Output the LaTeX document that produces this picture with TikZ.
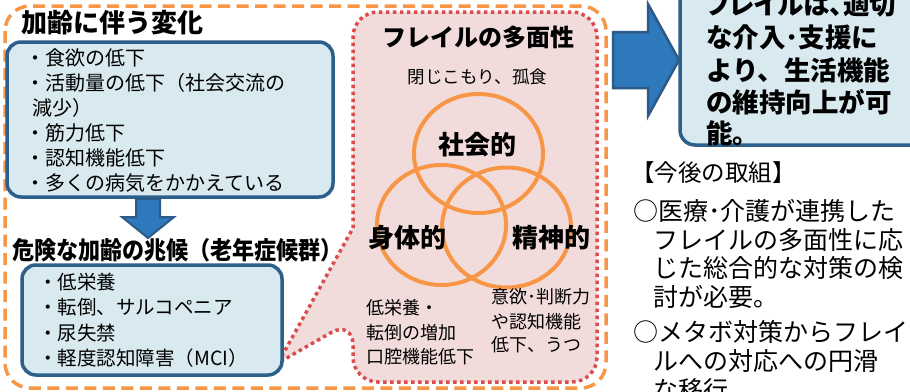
\documentclass[tikz,border=0pt]{standalone}
\usepackage{fontspec}
\setmainfont{Noto Sans CJK JP}
\usepackage{graphicx}
\definecolor{orng}{RGB}{247,150,70}
\definecolor{lightblue}{RGB}{216,234,240}
\definecolor{boxblue}{RGB}{44,95,138}
\definecolor{arrowblue}{RGB}{46,120,188}
\definecolor{arrowedge}{RGB}{44,90,135}
\definecolor{pinkfill}{RGB}{242,220,219}
\definecolor{dotred}{RGB}{218,76,78}
\newcommand\fsz[1]{\fontsize{#1}{#1}\selectfont}
\begin{document}
\begin{tikzpicture}[x=1pt,y=-1pt,
  txt/.style={inner sep=0pt, anchor=west, text=black},
  ctxt/.style={inner sep=0pt, text=black},
  bluebox/.style={draw=boxblue, line width=3.5pt, fill=lightblue, rounded corners=14pt},
  frame/.style={draw=orng, line width=3.5pt, dash pattern=on 12pt off 6.5pt, rounded corners=25pt},
  callout/.style={draw=dotred, fill=pinkfill, line width=3.5pt, dash pattern=on 3.5pt off 3.5pt},
  venn/.style={draw=orng, line width=4pt},
  bigarrow/.style={fill=arrowblue, draw=arrowedge, line width=2.5pt, line join=miter}
]
\useasboundingbox (0,0) rectangle (910,391);
\clip (0,0) rectangle (910,391);
\fill[white] (0,0) rectangle (910,391);

% outer orange dashed frame
\draw[frame] (5,6) rectangle (606,388);

% pink callout
\draw[callout, rounded corners=25pt] (353,228) -- (353,12) -- (597,12) -- (597,382) -- (353,382) -- (353,320) [sharp corners] -- (278,363) -- cycle;

% left boxes
\draw[bluebox] (7,42) rectangle (333,197);
\draw[bluebox] (22,265) rectangle (282,375);

% down arrow
\draw[bigarrow, line width=2pt] (136,199) -- (160,199) -- (160,217) -- (174,217) -- (148,238) -- (122,217) -- (136,217) -- cycle;

% right arrow and box
\draw[bigarrow] (613,32) -- (648,32) -- (648,4) -- (679,60) -- (648,116) -- (648,88) -- (613,88) -- cycle;
\draw[bluebox, rounded corners=15pt] (680,-30) rectangle (940,145);

% headings
\node[txt] (h1) at (21,23) {\fsz{26}\bfseries 加齢に伴う変化};
\node[txt] (h2) at (12,250) {\fsz{24.5}\bfseries\scalebox{0.9}[1]{危険な加齢の兆候（老年症候群）}};

% box 1 items
\node[txt] (a1) at (25,58) {\fsz{20}・食欲の低下};
\node[txt] (a2) at (25,83) {\fsz{20}・活動量の低下（社会交流の};
\node[txt] (a3) at (32,108) {\fsz{20}減少）};
\node[txt] (a4) at (25,133) {\fsz{20}・筋力低下};
\node[txt] (a5) at (25,158) {\fsz{20}・認知機能低下};
\node[txt] (a6) at (25,183) {\fsz{20}・多くの病気をかかえている};

% box 2 items
\node[txt] (b1) at (38,282) {\fsz{19.5}・低栄養};
\node[txt] (b2) at (38,307) {\fsz{19.5}・転倒、サルコペニア};
\node[txt] (b3) at (38,333) {\fsz{19.5}・尿失禁};
\node[txt] (b4) at (38,358) {\fsz{19.5}・軽度認知障害（MCI）};

% pink box content
\node[ctxt] (ft) at (478,37) {\fsz{24}\bfseries フレイルの多面性};
\node[ctxt] (soc) at (477.5,77) {\fsz{17.5}閉じこもり、孤食};

\draw[venn] (478.5,153.5) ellipse [x radius=64.5pt, y radius=59.5pt];
\draw[venn] (441.5,225) ellipse [x radius=64.5pt, y radius=60pt];
\draw[venn] (506.5,227.5) ellipse [x radius=64.5pt, y radius=60pt];

\node[ctxt] (c1) at (477.5,145) {\fsz{26}\bfseries 社会的};
\node[ctxt] (c2) at (407,238) {\fsz{26}\bfseries 身体的};
\node[ctxt] (c3) at (551,238) {\fsz{26}\bfseries 精神的};

\node[txt] (p1) at (366,308) {\fsz{18}低栄養・};
\node[txt] (p2) at (366,333) {\fsz{18}転倒の増加};
\node[txt] (p3) at (366,357) {\fsz{18}口腔機能低下};

\node[txt] (q1) at (491,297) {\fsz{18}意欲･判断力};
\node[txt] (q2) at (491,322) {\fsz{18}や認知機能};
\node[txt] (q3) at (491,345) {\fsz{18}低下、うつ};

% top-right box text
\node[txt] (r0) at (706,5) {\fsz{26.5}\bfseries\addfontfeatures{RawFeature=+palt}フレイルは、適切};
\node[txt] (r1) at (706,37) {\fsz{26.5}\bfseries な介入･支援に};
\node[txt] (r2) at (706,70) {\fsz{26.5}\bfseries より、生活機能};
\node[txt] (r3) at (706,102) {\fsz{26.5}\bfseries の維持向上が可};
\node[txt] (r4) at (706,133) {\fsz{26.5}\bfseries 能。};

% right lower text
\node[txt] (s0) at (631,173) {\fsz{23.5}【今後の取組】};
\node[txt] (s1) at (633,211) {\fsz{25}○医療･介護が連携した};
\node[txt] (s2) at (653,239.5) {\fsz{25}フレイルの多面性に応};
\node[txt] (s3) at (653,268) {\fsz{25}じた総合的な対策の検};
\node[txt] (s4) at (653,296.5) {\fsz{25}討が必要。};
\node[txt] (s5) at (633,332) {\fsz{25}○メタボ対策からフレイ};
\node[txt] (s6) at (653,361) {\fsz{25}ルへの対応への円滑};
\node[txt] (s7) at (653,390) {\fsz{25}な移行};
\end{tikzpicture}
\end{document}
